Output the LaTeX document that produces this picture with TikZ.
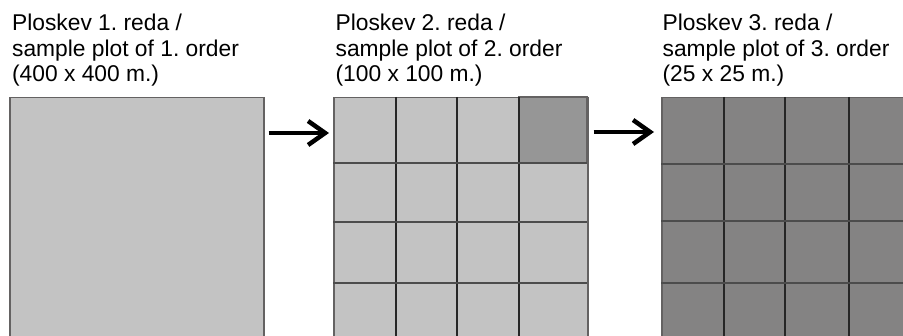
\documentclass[tikz,border=0pt]{standalone}
\usepackage{fontspec}
\setmainfont{Liberation Sans}
\usetikzlibrary{arrows.meta}
\definecolor{plotlight}{RGB}{195,195,195}
\definecolor{plotdark}{RGB}{150,150,150}
\definecolor{plotdeep}{RGB}{132,131,131}
\definecolor{edgegray}{RGB}{100,98,98}
\frenchspacing

\tikzset{every picture/.style={line width=1.2pt}}

\begin{document}
\begin{tikzpicture}[x=1pt,y=-1pt,
  plot/.style={draw=edgegray,line width=1.5pt,anchor=north west,inner sep=0pt,
    minimum width=254pt,minimum height=248pt},
  hdr/.style={anchor=north west,inner sep=0pt,align=left,
    font=\fontsize{22.8}{25.5}\selectfont},
  arr/.style={line width=4.5pt,-{Straight Barb[length=17pt,width=24pt,line width=4.5pt]}},
  gridv/.style={draw=black!85,line width=1.2pt},
  gridh/.style={draw=black!70,line width=1.5pt}]
\useasboundingbox (0,0) rectangle (903,336);
\clip (0,0) rectangle (903,336);
	%Nadpisy
	\node[hdr] (h1) at (11.5,13.5) {Ploskev 1. reda /\\sample plot of 1. order\\(400 x 400 m.)};
	\node[hdr] (h2) at (335,13.5) {Ploskev 2. reda /\\sample plot of 2. order\\(100 x 100 m.)};
	\node[hdr] (h3) at (662,13.5) {Ploskev 3. reda /\\sample plot of 3. order\\(25 x 25 m.)};
	%Plocha 1
	\node[plot,fill=plotlight] (p1) at (9,97) {};
	%Plocha 2
	\node[plot,fill=plotlight] (p2) at (333,97) {};
	\filldraw[fill=plotdark,draw=edgegray,line width=1.5pt] (519,97) rectangle (587,163);
	\foreach \x in {396,457,519} \draw[gridv] (\x,97) -- (\x,345);
	\foreach \y in {163,222,283} \draw[gridh] (333,\y) -- (587,\y);
	%Plocha 3
	\node[plot,fill=plotdeep] (p3) at (661,97) {};
	\foreach \x in {724,785,849} \draw[gridv] (\x,97) -- (\x,345);
	\foreach \y in {164,221,283} \draw[gridh] (661,\y) -- (915,\y);
	%Sipky
	\draw[arr] ([shift={(4,36)}]p1.north east) -- ([shift={(-4,36)}]p2.north west);
	\draw[arr] ([shift={(5,35)}]p2.north east) -- ([shift={(-7,35)}]p3.north west);
\end{tikzpicture}
\end{document}
